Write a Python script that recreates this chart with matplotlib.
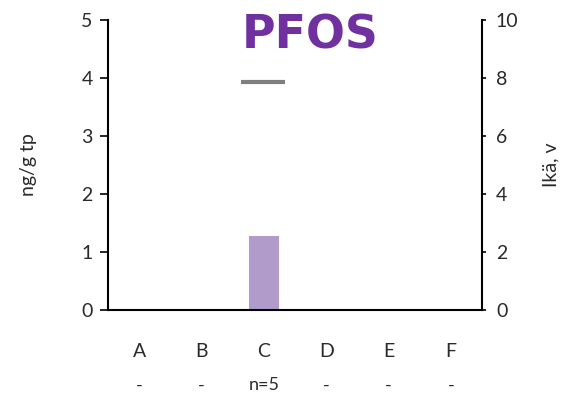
import numpy as np
import matplotlib
matplotlib.use("Agg")
import matplotlib.pyplot as plt

categories = ['A', 'B', 'C', 'D', 'E', 'F']
n_labels = ['-', '-', 'n=5', '-', '-', '-']
conc = [np.nan, np.nan, 1.27, np.nan, np.nan, np.nan]   # ng/g tp
age = [np.nan, np.nan, 7.85, np.nan, np.nan, np.nan]     # Ikä, v
left_ticks = [0, 1, 2, 3, 4, 5]
right_ticks = [0, 2, 4, 6, 8, 10]
title = 'PFOS'

plt.rcParams['font.family'] = ['Lato', 'DejaVu Sans']
txt_col = '#2a2a2a'

fig = plt.figure(figsize=(5.61, 3.98), dpi=100)
ax = fig.add_axes([108/561, 1-310/398, (482-108)/561, (310-20)/398])
x = np.arange(len(categories))
ax.bar(x, conc, width=0.48, color='#b09bcb', zorder=2)
ax.set_xlim(-0.5, len(categories)-0.5)
ax.set_ylim(0, 5)
ax.set_yticks(left_ticks)
ax.set_yticklabels([str(t) for t in left_ticks])
ax.tick_params(axis='y', direction='out', length=6, width=1.2, colors='black',
               labelcolor=txt_col, labelsize=14, pad=5)
ax.set_xticks(x)
ax.set_xticklabels(categories)
ax.tick_params(axis='x', length=0, labelsize=14, labelcolor=txt_col, pad=24)
for xi, lab in zip(x, n_labels):
    ax.text(xi, -0.26, lab, transform=ax.get_xaxis_transform(), ha='center',
            va='center', fontsize=13, color=txt_col)
ax.spines['top'].set_visible(False)
ax.spines['right'].set_visible(False)
for s in ['left', 'bottom']:
    ax.spines[s].set_linewidth(1.5)
ax.set_ylabel('ng/g tp', fontsize=14, color=txt_col, labelpad=32)

ax2 = ax.twinx()
ax2.set_ylim(0, 10)
ax2.set_yticks(right_ticks)
ax2.set_yticklabels([str(t) for t in right_ticks])
ax2.tick_params(axis='y', direction='out', length=3, width=1.2, colors='black',
                labelcolor=txt_col, labelsize=14, pad=7)
for xi, a in zip(x, age):
    if not np.isnan(a):
        ax2.hlines(a, xi-0.36, xi+0.34, color='#7f7f7f', linewidth=3)
for s in ['top', 'left', 'bottom']:
    ax2.spines[s].set_visible(False)
ax2.spines['right'].set_linewidth(1.5)
ax2.set_ylabel('Ikä, v', fontsize=14, color=txt_col, labelpad=17)

fig.text(310/561, 1-36/398, title, ha='center', va='center', fontsize=33,
         fontweight='heavy', color='#7030a0', family=['DejaVu Sans'])

fig.savefig('out.png', dpi=100)
